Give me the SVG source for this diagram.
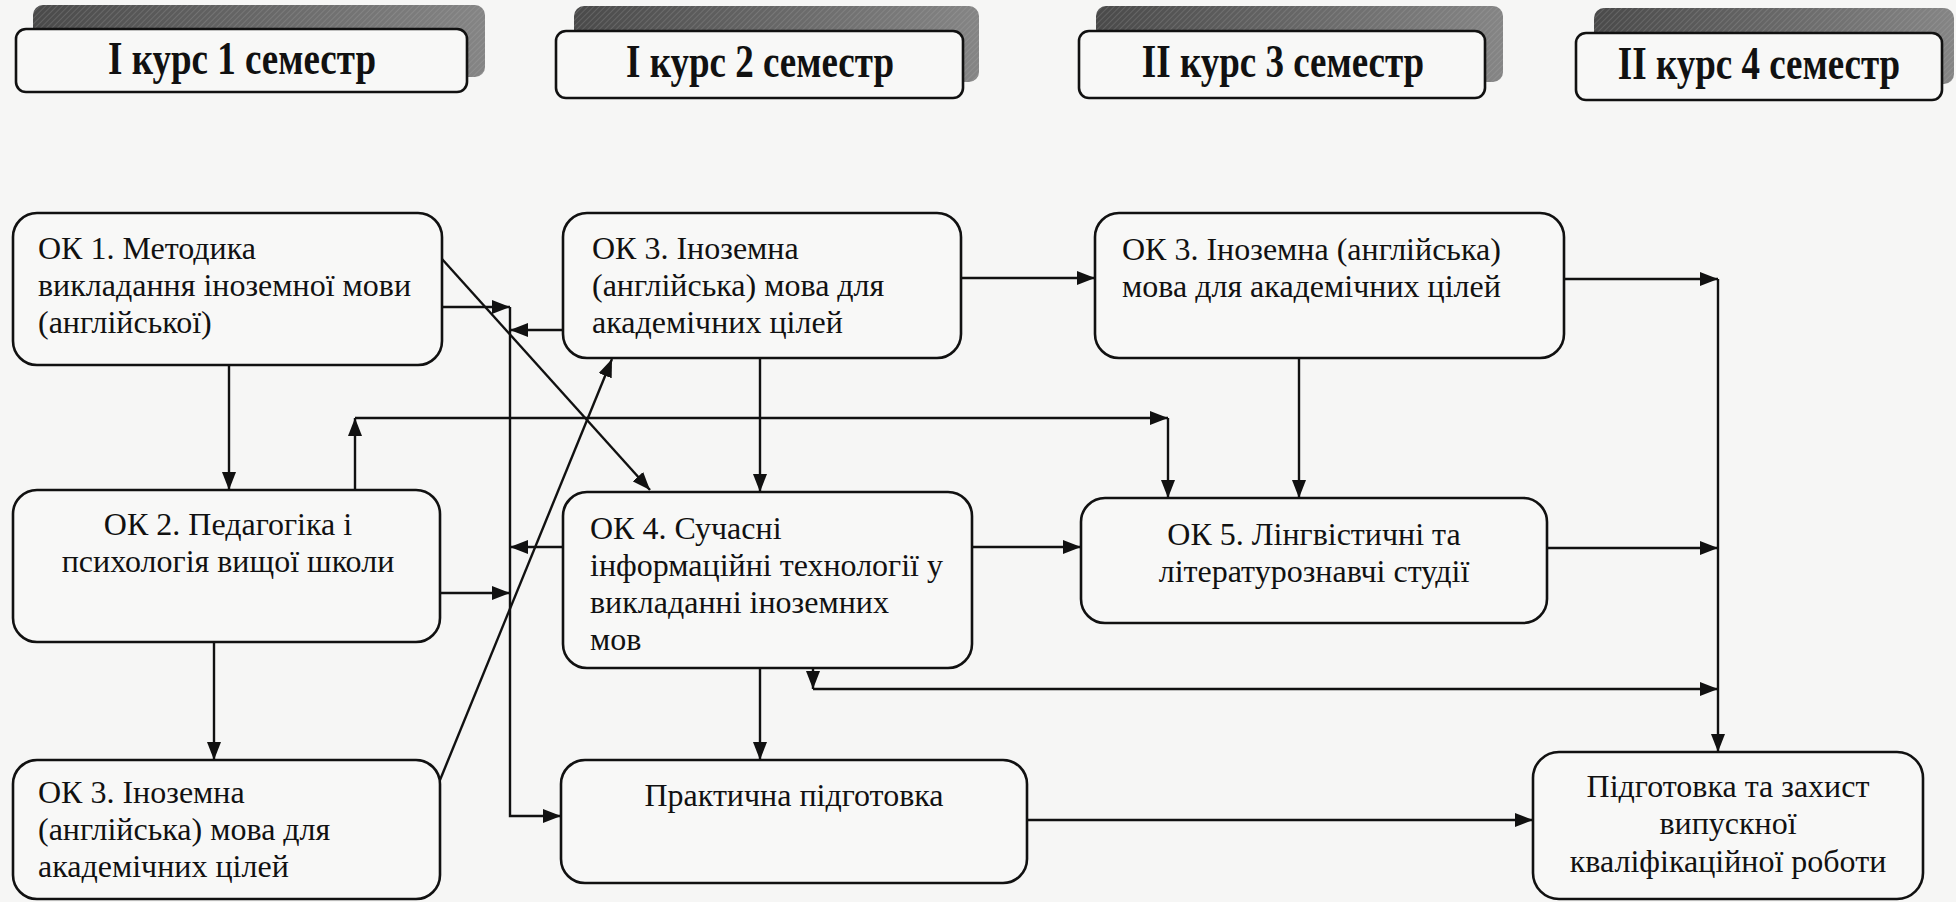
<svg xmlns="http://www.w3.org/2000/svg" width="1956" height="902" viewBox="0 0 1956 902">
  <defs>
    <style>
      .bg { fill: #f6f6f5; }
      .hdr { fill: #f8f8f7; stroke: #111; stroke-width: 2.6; }
      .shadow { fill: url(#shadeGrad); }
      .hatch { fill: url(#hatch); }
      .node { fill: #f8f8f7; stroke: #111; stroke-width: 2.6; }
      .ht { font-family: "Liberation Serif", "Times New Roman", serif; font-weight: bold; font-size: 37px; fill: #111; text-anchor: middle; }
      .t { font-family: "Liberation Serif", "Times New Roman", serif; font-size: 32px; fill: #111; }
      .tc { text-anchor: middle; }
      .conn line, .conn path { stroke: #111; stroke-width: 2.4; fill: none; }
      .arr { marker-end: url(#ah); }
    </style>
    <linearGradient id="shadeGrad" x1="0" y1="0" x2="1" y2="0">
      <stop offset="0" stop-color="#4a4a4a"/>
      <stop offset="0.55" stop-color="#6a6a6a"/>
      <stop offset="1" stop-color="#858585"/>
    </linearGradient>
    <pattern id="hatch" width="4" height="4" patternUnits="userSpaceOnUse" patternTransform="rotate(45)">
      <rect width="4" height="4" fill="none"/>
      <line x1="0" y1="0" x2="0" y2="4" stroke="#bdbdbd" stroke-width="1" stroke-opacity="0.4"/>
    </pattern>
    <marker id="ah" markerUnits="userSpaceOnUse" markerWidth="18" markerHeight="14" refX="18" refY="7" orient="auto">
      <path d="M0,0 L18,7 L0,14 z" fill="#111"/>
    </marker>
  </defs>

  <rect class="bg" x="0" y="0" width="1956" height="902"/>

  <!-- Headers -->
  <g id="header1">
    <rect class="shadow" x="33" y="5" width="452" height="72" rx="10"/>
    <rect class="hatch" x="33" y="5" width="452" height="72" rx="10"/>
    <rect class="hdr" x="16" y="29" width="451" height="63" rx="10"/>
    <text class="ht" transform="translate(242,74) scale(1,1.25)">I курс 1 семестр</text>
  </g>
  <g id="header2">
    <rect class="shadow" x="574" y="6" width="405" height="76" rx="10"/>
    <rect class="hatch" x="574" y="6" width="405" height="76" rx="10"/>
    <rect class="hdr" x="556" y="31" width="407" height="67" rx="10"/>
    <text class="ht" transform="translate(760,77) scale(1,1.25)">I курс 2 семестр</text>
  </g>
  <g id="header3">
    <rect class="shadow" x="1096" y="6" width="407" height="76" rx="10"/>
    <rect class="hatch" x="1096" y="6" width="407" height="76" rx="10"/>
    <rect class="hdr" x="1079" y="31" width="406" height="67" rx="10"/>
    <text class="ht" transform="translate(1283,77) scale(1,1.25)">II курс 3 семестр</text>
  </g>
  <g id="header4">
    <rect class="shadow" x="1594" y="8" width="360" height="76" rx="10"/>
    <rect class="hatch" x="1594" y="8" width="360" height="76" rx="10"/>
    <rect class="hdr" x="1576" y="33" width="366" height="67" rx="10"/>
    <text class="ht" transform="translate(1759,79) scale(1,1.25)">II курс 4 семестр</text>
  </g>

  <!-- Nodes -->
  <g id="ok1">
    <rect class="node" x="13" y="213" width="429" height="152" rx="24"/>
    <text class="t" x="38" y="259">ОК 1. Методика</text>
    <text class="t" x="38" y="296">викладання іноземної мови</text>
    <text class="t" x="38" y="333">(англійської)</text>
  </g>
  <g id="ok3-s2">
    <rect class="node" x="563" y="213" width="398" height="145" rx="24"/>
    <text class="t" x="592" y="259">ОК 3. Іноземна</text>
    <text class="t" x="592" y="296">(англійська) мова для</text>
    <text class="t" x="592" y="333">академічних цілей</text>
  </g>
  <g id="ok3-s3">
    <rect class="node" x="1095" y="213" width="469" height="145" rx="24"/>
    <text class="t" x="1122" y="260">ОК 3. Іноземна (англійська)</text>
    <text class="t" x="1122" y="297">мова для академічних цілей</text>
  </g>
  <g id="ok2">
    <rect class="node" x="13" y="490" width="427" height="152" rx="24"/>
    <text class="t tc" x="228" y="535">ОК 2. Педагогіка і</text>
    <text class="t tc" x="228" y="572">психологія вищої школи</text>
  </g>
  <g id="ok4">
    <rect class="node" x="563" y="492" width="409" height="176" rx="24"/>
    <text class="t" x="590" y="539">ОК 4. Сучасні</text>
    <text class="t" x="590" y="576">інформаційні технології у</text>
    <text class="t" x="590" y="613">викладанні іноземних</text>
    <text class="t" x="590" y="650">мов</text>
  </g>
  <g id="ok5">
    <rect class="node" x="1081" y="498" width="466" height="125" rx="24"/>
    <text class="t tc" x="1314" y="545">ОК 5. Лінгвістичні та</text>
    <text class="t tc" x="1314" y="582">літературознавчі студії</text>
  </g>
  <g id="ok3-s1">
    <rect class="node" x="13" y="760" width="427" height="139" rx="24"/>
    <text class="t" x="38" y="803">ОК 3. Іноземна</text>
    <text class="t" x="38" y="840">(англійська) мова для</text>
    <text class="t" x="38" y="877">академічних цілей</text>
  </g>
  <g id="practice">
    <rect class="node" x="561" y="760" width="466" height="123" rx="24"/>
    <text class="t tc" x="794" y="806">Практична підготовка</text>
  </g>
  <g id="thesis">
    <rect class="node" x="1533" y="752" width="390" height="147" rx="26"/>
    <text class="t tc" x="1728" y="797">Підготовка та захист</text>
    <text class="t tc" x="1728" y="834">випускної</text>
    <text class="t tc" x="1728" y="872">кваліфікаційної роботи</text>
  </g>

  <!-- Connectors -->
  <g id="connectors" class="conn">
    <!-- left bus -->
    <line class="arr" x1="442" y1="307" x2="510" y2="307"/>
    <path class="arr" d="M510,307 V816 H561"/>
    <line class="arr" x1="563" y1="330" x2="510" y2="330"/>
    <line class="arr" x1="563" y1="547" x2="510" y2="547"/>
    <line class="arr" x1="440" y1="593" x2="510" y2="593"/>
    <!-- column 1 verticals -->
    <line class="arr" x1="229" y1="365" x2="229" y2="490"/>
    <line class="arr" x1="214" y1="642" x2="214" y2="760"/>
    <!-- OK2 to OK5 -->
    <line class="arr" x1="355" y1="490" x2="355" y2="418"/>
    <line class="arr" x1="355" y1="418" x2="1168" y2="418"/>
    <line class="arr" x1="1168" y1="418" x2="1168" y2="498"/>
    <!-- diagonals -->
    <line class="arr" x1="442" y1="259" x2="650" y2="490"/>
    <line class="arr" x1="440" y1="780" x2="612" y2="359"/>
    <!-- column 2 -->
    <line class="arr" x1="961" y1="278" x2="1095" y2="278"/>
    <line class="arr" x1="760" y1="358" x2="760" y2="492"/>
    <line class="arr" x1="972" y1="547" x2="1081" y2="547"/>
    <line class="arr" x1="760" y1="668" x2="760" y2="760"/>
    <line class="arr" x1="813" y1="668" x2="813" y2="689"/>
    <line class="arr" x1="813" y1="689" x2="1718" y2="689"/>
    <!-- column 3 -->
    <line class="arr" x1="1299" y1="358" x2="1299" y2="498"/>
    <line class="arr" x1="1564" y1="279" x2="1718" y2="279"/>
    <line class="arr" x1="1718" y1="279" x2="1718" y2="752"/>
    <line class="arr" x1="1547" y1="548" x2="1718" y2="548"/>
    <line class="arr" x1="1027" y1="820" x2="1533" y2="820"/>
  </g>
</svg>
